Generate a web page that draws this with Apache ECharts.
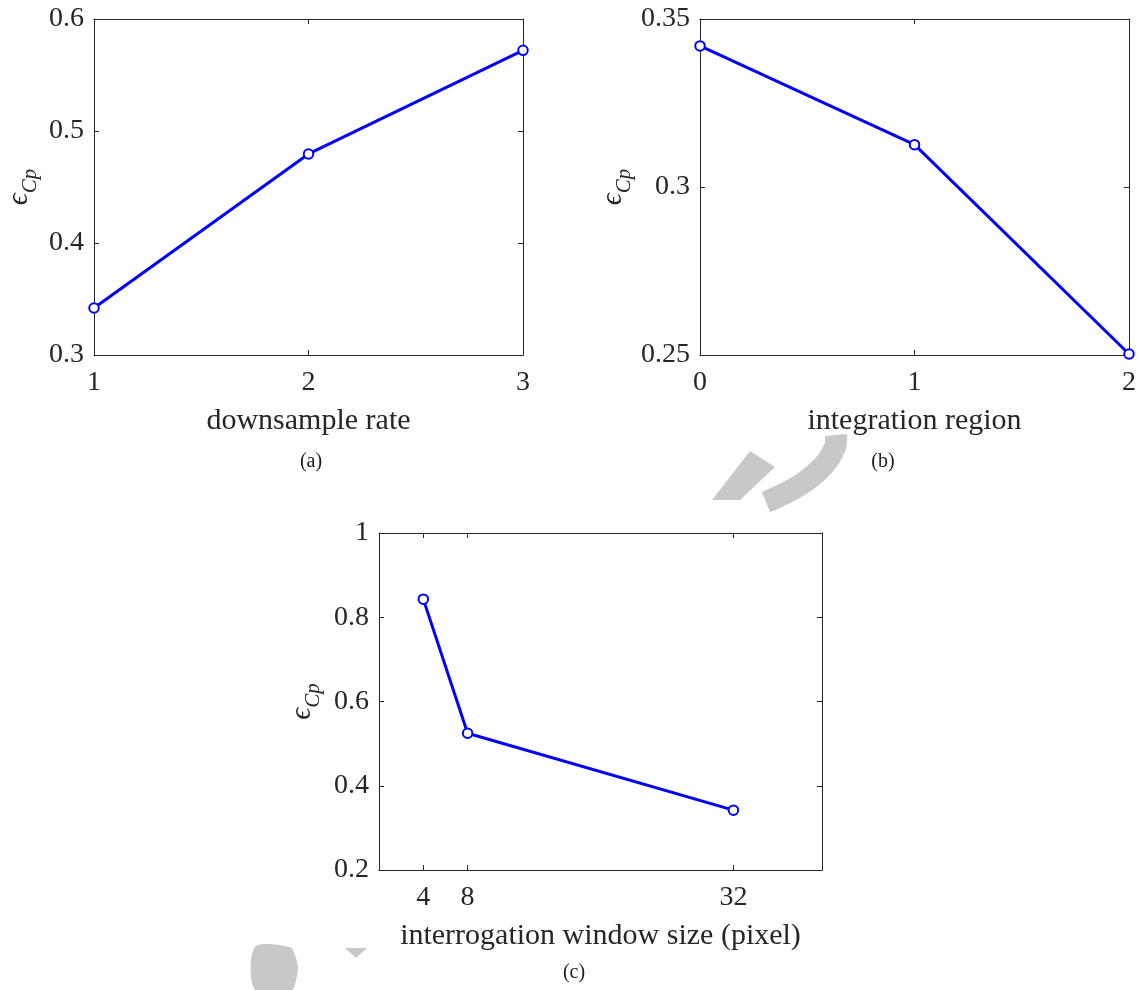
<!DOCTYPE html>
<html>
<head>
<meta charset="utf-8">
<script src="https://cdn.jsdelivr.net/npm/echarts@6/dist/echarts.min.js"></script>
<style>
html,body{margin:0;padding:0;background:#fff;}
#chart{width:1140px;height:990px;}
</style>
</head>
<body>
<div id="chart"></div>
<script>
// ---- data ----
const xA = [1, 2, 3];
const yA = [0.342, 0.4795, 0.572];
const xB = [0, 1, 2];
const yB = [0.342, 0.3126, 0.2503];
const xC = [4, 8, 32];
const yC = [0.843, 0.5245, 0.342];
const ticksC = [4, 8, 32];
const xNames = ['downsample rate', 'integration region', 'interrogation window size (pixel)'];
const captions = ['(a)', '(b)', '(c)'];

const FONT = 'Liberation Serif';
const AX = '#262626';
const BLUE = '#0000ff';

const grids = [
  {left: 94, top: 19, width: 429, height: 336},
  {left: 700, top: 19, width: 429, height: 336},
  {left: 379, top: 533, width: 443, height: 337}
];

const xRanges = [
  {min: 1, max: 3, interval: 1},
  {min: 0, max: 2, interval: 1},
  {min: 0, max: 40, custom: ticksC}
];
const yRanges = [
  {min: 0.3, max: 0.6, interval: 0.1},
  {min: 0.25, max: 0.35, interval: 0.05},
  {min: 0.2, max: 1, interval: 0.2}
];
const yNameGaps = [53, 65, 55];

function xAxisDef(i, pos) {
  const r = xRanges[i];
  const main = pos === 'bottom';
  const ax = {
    type: 'value', gridIndex: i, position: pos, min: r.min, max: r.max,
    splitLine: {show: false},
    axisLine: {show: true, onZero: false, lineStyle: {color: AX, width: 1}},
    axisTick: {show: true, inside: true, length: 5, lineStyle: {color: AX, width: 1}},
    axisLabel: {show: main, margin: 14, color: AX, fontFamily: FONT, fontSize: 28},
    name: main ? xNames[i] : '',
    nameLocation: 'middle', nameGap: 51,
    nameTextStyle: {color: AX, fontFamily: FONT, fontSize: 30}
  };
  if (r.custom) {
    ax.axisTick.customValues = r.custom;
    ax.axisLabel.customValues = r.custom;
  } else {
    ax.interval = r.interval;
  }
  return ax;
}
function yAxisDef(i, pos) {
  const r = yRanges[i];
  const main = pos === 'left';
  return {
    type: 'value', gridIndex: i, position: pos, min: r.min, max: r.max, interval: r.interval,
    splitLine: {show: false},
    axisLine: {show: true, onZero: false, lineStyle: {color: AX, width: 1}},
    axisTick: {show: true, inside: true, length: 5, lineStyle: {color: AX, width: 1}},
    axisLabel: {show: main, margin: 10, color: AX, fontFamily: FONT, fontSize: 28},
    name: main ? '{e|\u03F5}{s|Cp}' : '',
    nameLocation: 'middle', nameRotate: 90, nameGap: yNameGaps[i],
    nameTextStyle: {
      color: AX, fontFamily: FONT,
      rich: {
        e: {fontFamily: FONT, fontSize: 30, fontStyle: 'italic', color: AX, lineHeight: 44},
        s: {fontFamily: FONT, fontSize: 21, fontStyle: 'italic', color: AX, lineHeight: 12, verticalAlign: 'bottom'}
      }
    }
  };
}

const xAxes = [], yAxes = [];
for (let i = 0; i < 3; i++) {
  xAxes.push(xAxisDef(i, 'bottom'), xAxisDef(i, 'top'));
  yAxes.push(yAxisDef(i, 'left'), yAxisDef(i, 'right'));
}

const dataSets = [[xA, yA], [xB, yB], [xC, yC]];
const series = dataSets.map((d, i) => ({
  type: 'line',
  xAxisIndex: 2 * i, yAxisIndex: 2 * i,
  data: d[0].map((x, k) => [x, d[1][k]]),
  symbol: 'emptyCircle', symbolSize: 9.5,
  itemStyle: {color: BLUE, borderColor: BLUE, borderWidth: 2.6},
  lineStyle: {color: BLUE, width: 3},
  clip: false, z: 3
}));

const capPos = [[311, 462], [883, 462], [574, 973]];
const graphics = capPos.map((p, i) => ({
  type: 'text', x: p[0], y: p[1], z: 10,
  style: {text: captions[i], font: '20px "' + FONT + '"', fill: '#1a1a1a', align: 'center', verticalAlign: 'middle'}
}));
// faint watermark remnants
const WM = '#c8c8c8';
graphics.push(
  {type: 'polygon', z: -1, shape: {points: [[712,500],[740,500],[775,467],[750,451]]}, style: {fill: WM}},
  {type: 'polyline', z: -1, shape: {smooth: 0.4, points: [[766,502],[800,485],[824,465],[835,447],[836,435]]}, style: {stroke: WM, lineWidth: 22, fill: null}},
  {type: 'polygon', z: -1, shape: {smooth: 0.3, points: [[255,947],[290,947],[295,955],[298,968],[296,980],[292,990],[255,990]]}, style: {fill: WM}},
  {type: 'polygon', z: -1, shape: {points: [[345,948],[367,948],[356,958]]}, style: {fill: WM}}
);

const chart = echarts.init(document.getElementById('chart'), null, {renderer: 'canvas'});
chart.setOption({
  animation: false,
  backgroundColor: '#ffffff',
  grid: grids,
  xAxis: xAxes,
  yAxis: yAxes,
  series: series,
  graphic: graphics
});
</script>
</body>
</html>
